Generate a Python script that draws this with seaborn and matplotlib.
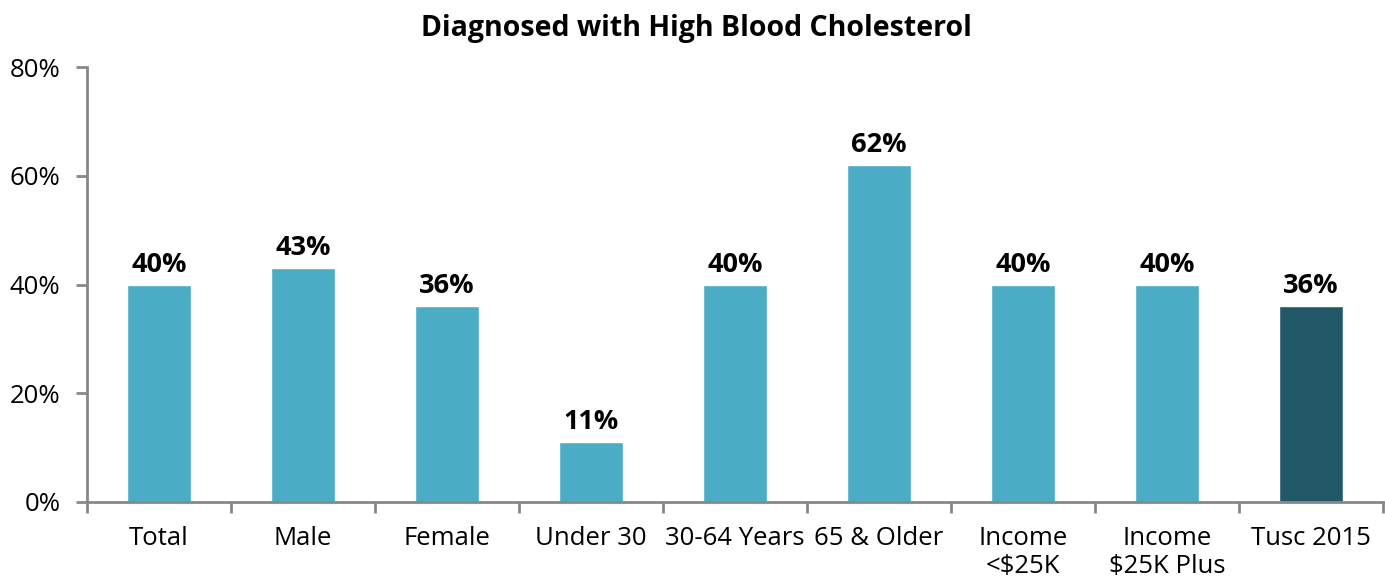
import matplotlib
matplotlib.use("Agg")
import matplotlib.pyplot as plt
from matplotlib.ticker import FixedLocator, PercentFormatter
import seaborn as sns
import pandas as pd

categories = ["Total", "Male", "Female", "Under 30", "30-64 Years",
              "65 & Older", "Income\n<$25K", "Income\n$25K Plus", "Tusc 2015"]
values = [40, 43, 36, 11, 40, 62, 40, 40, 36]
bar_colors = ["#4BACC6"] * 8 + ["#215968"]
y_ticks = [0, 20, 40, 60, 80]

sns.set_theme(style="white")
plt.rcParams["font.family"] = ["Open Sans", "DejaVu Sans"]
plt.rcParams["text.color"] = "black"
plt.rcParams["xtick.labelcolor"] = "black"
plt.rcParams["ytick.labelcolor"] = "black"

df = pd.DataFrame({"category": categories, "value": values})

fig = plt.figure(figsize=(13.85, 5.79), dpi=100)
ax = fig.add_axes([0.0628, 0.133, 0.9358, 0.751])

sns.barplot(data=df, x="category", y="value", hue="category",
            palette=bar_colors, width=0.44, saturation=1, legend=False, ax=ax)

ax.set_xlim(-0.5, len(categories) - 0.5)
ax.set_ylim(0, 80)
ax.yaxis.set_major_locator(FixedLocator(y_ticks))
ax.yaxis.set_major_formatter(PercentFormatter(decimals=0))

for i, v in enumerate(values):
    ax.text(i, v + 1.3, f"{v}%", ha="center", va="bottom",
            fontsize=19.5, fontweight="bold", color="black")

for side in ("top", "right"):
    ax.spines[side].set_visible(False)
for side in ("left", "bottom"):
    ax.spines[side].set_color("#888888")
    ax.spines[side].set_linewidth(2)

ax.set_xlabel("")
ax.set_ylabel("")
ax.xaxis.set_minor_locator(FixedLocator([i - 0.5 for i in range(len(categories) + 1)]))
ax.tick_params(axis="x", which="minor", bottom=True, length=8, width=2,
               color="#888888", direction="out")
ax.tick_params(axis="x", which="major", bottom=True, length=0, pad=17, labelsize=18.5)
ax.tick_params(axis="y", left=True, length=8, width=2, color="#888888", direction="out",
               labelsize=18.5, pad=11)

fig.suptitle("Diagnosed with High Blood Cholesterol", x=0.5025, y=0.975,
             fontsize=20.5, fontweight="bold", color="black")

fig.savefig("out.png", dpi=100)
